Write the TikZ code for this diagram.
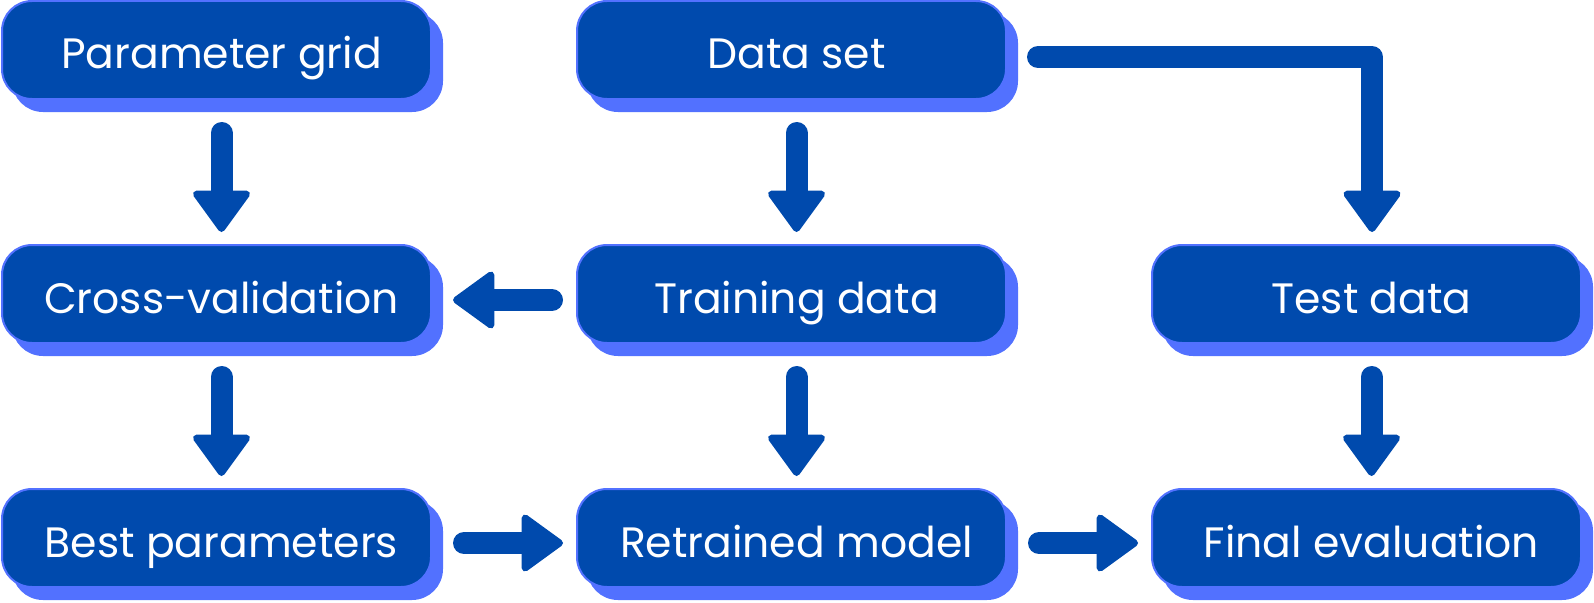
\documentclass[tikz,border=0pt]{standalone}
\usepackage{fontspec}
\setmainfont{Poppins}
\usetikzlibrary{arrows.meta,shadows,calc}
\definecolor{dark}{HTML}{004AAD}
\definecolor{light}{HTML}{5271FF}
\tikzset{
  box/.style={draw=light, line width=2pt, fill=dark, rounded corners=30pt,
    minimum width=429pt, minimum height=98pt, inner sep=0pt,
    text height=38pt, text depth=0pt,
    text=white, font=\fontsize{42.5}{48}\selectfont,
    execute at begin node=\hspace*{10pt},
    general shadow={fill=light, draw=light, line width=2pt, shadow xshift=11pt, shadow yshift=-12pt}},
  fat/.style={draw=dark, line width=22pt, line cap=round, line join=round,
    -{Triangle[width=62pt,length=44pt,line width=7pt,round]}}
}
\begin{document}
\begin{tikzpicture}[x=1pt,y=-1pt]
\useasboundingbox (0,0) rectangle (1594,602);
\node[box] (pg) at (216.5,50) {Parameter grid};
\node[box] (ds) at (791.5,50) {Data set};
\node[box] (cv) at (216.5,294) {Cross-validation};
\node[box] (tr) at (791.5,294) {Training data};
\node[box] (te) at (1366.5,294) {Test data};
\node[box] (bp) at (216.5,538) {Best parameters};
\node[box] (rm) at (791.5,538) {Retrained model};
\node[box] (fe) at (1366.5,538) {Final evaluation};

\draw[fat] ([xshift=5pt,yshift=-33pt]pg.south) -- ([xshift=5pt,yshift=12pt]cv.north);
\draw[fat] ([xshift=5pt,yshift=-33pt]ds.south) -- ([xshift=5pt,yshift=12pt]tr.north);
\draw[fat] ([xshift=5pt,yshift=-33pt]cv.south) -- ([xshift=5pt,yshift=12pt]bp.north);
\draw[fat] ([xshift=5pt,yshift=-33pt]tr.south) -- ([xshift=5pt,yshift=12pt]rm.north);
\draw[fat] ([xshift=5pt,yshift=-33pt]te.south) -- ([xshift=5pt,yshift=12pt]fe.north);
\draw[fat] ([xshift=-24pt,yshift=-6pt]tr.west) -- ([xshift=21pt,yshift=-6pt]cv.east);
\draw[fat] ([xshift=32pt,yshift=-5pt]bp.east) -- ([xshift=-13pt,yshift=-5pt]rm.west);
\draw[fat] ([xshift=32pt,yshift=-5pt]rm.east) -- ([xshift=-13pt,yshift=-5pt]fe.west);
\draw[fat] ([xshift=31pt,yshift=-7pt]ds.east) -| ([xshift=5.5pt,yshift=12pt]te.north);
\end{tikzpicture}
\end{document}
